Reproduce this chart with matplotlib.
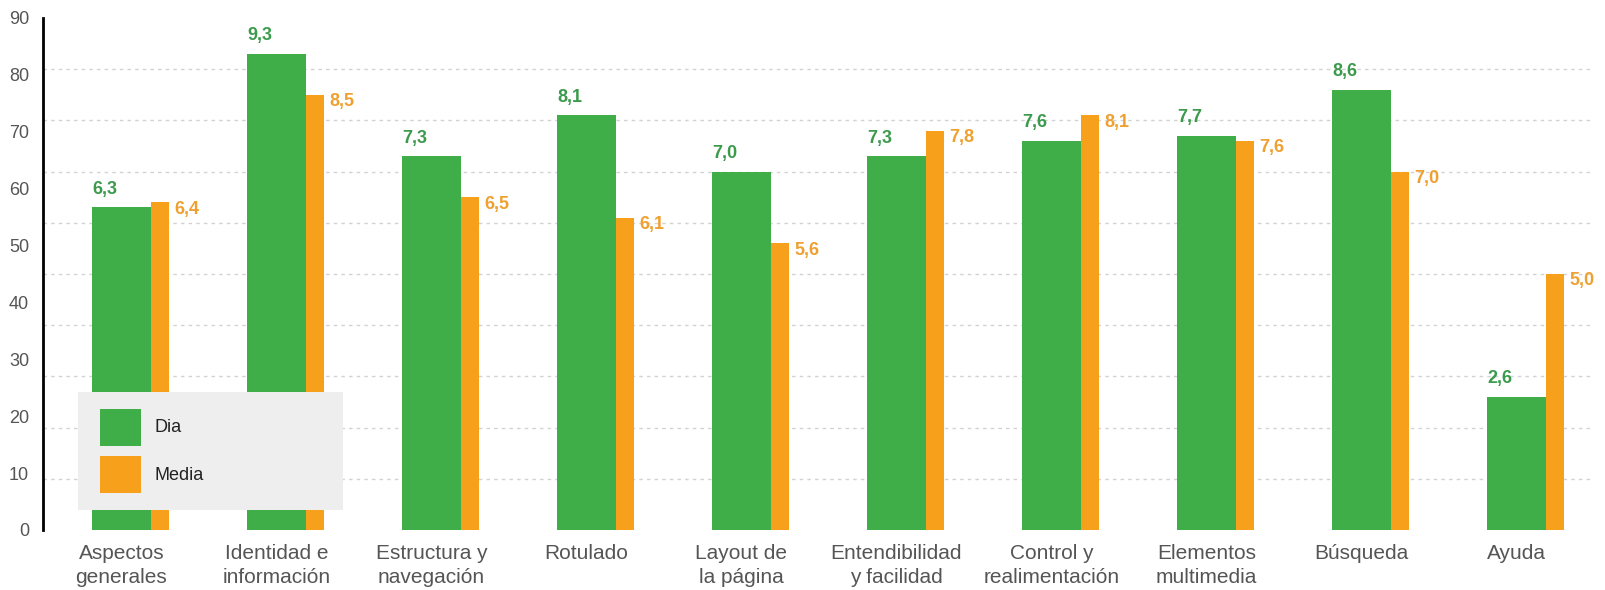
import matplotlib.pyplot as plt
import numpy as np
from matplotlib.patches import Rectangle

plt.rcParams['font.family'] = ['Liberation Sans', 'DejaVu Sans']

categorias = ["Aspectos\ngenerales", "Identidad e\ninformación", "Estructura y\nnavegación",
              "Rotulado", "Layout de\nla página", "Entendibilidad\ny facilidad",
              "Control y\nrealimentación", "Elementos\nmultimedia", "Búsqueda", "Ayuda"]
# scores out of 10, the y axis shows them scaled 0-90
dia = [6.3, 9.3, 7.3, 8.1, 7.0, 7.3, 7.6, 7.7, 8.6, 2.6]
media = [6.4, 8.5, 6.5, 6.1, 5.6, 7.8, 8.1, 7.6, 7.0, 5.0]
ytick_labels = ["0", "10", "20", "30", "40", "50", "60", "70", "80", "90"]
series = ["Dia", "Media"]

verde = "#3fae49"
naranja = "#f6a01b"
verde_txt = "#3b9a4c"
naranja_txt = "#f0a030"

W, H = 1605, 590
fig = plt.figure(figsize=(W/100, H/100), dpi=100)
ax = fig.add_axes([43/W, 1-530/H, 1550/W, 512/H])

x = np.arange(len(categorias))
w_dia = 0.38
w_med = 0.116
x_dia = x - 0.25 + w_dia/2
x_med = x + 0.13 + w_med/2

ax.bar(x_dia, dia, width=w_dia, color=verde, zorder=2)
ax.bar(x_med, media, width=w_med, color=naranja, zorder=2)

def fmt(v):
    return ("%.1f" % v).replace(".", ",")

for xi, v in zip(x_dia, dia):
    ax.annotate(fmt(v), (xi - w_dia/2, v), xytext=(0, 7), textcoords="offset points",
                ha="left", va="bottom", color=verde_txt, fontsize=13, fontweight="bold")
for xi, v in zip(x_med, media):
    ax.annotate(fmt(v), (xi + w_med/2, v), xytext=(4, -5), textcoords="offset points",
                ha="left", va="center", color=naranja_txt, fontsize=13, fontweight="bold")

ax.set_xlim(-0.566, 9.434)
ax.set_ylim(0, 10)

# gridlines on every score unit
ax.set_yticks(np.arange(0, 11), minor=True)
ax.grid(which="minor", axis="y", color="#d2d2d2", linestyle=(0, (2.5, 3)), linewidth=1, zorder=0)
ax.set_yticks(np.arange(0, 91, 10) / 9)
ax.set_yticklabels(ytick_labels, color="#555555", fontsize=13)
ax.tick_params(axis="y", which="both", length=0, pad=10)

ax.set_xticks(x_dia)
ax.set_xticklabels(categorias, color="#555555", fontsize=15, linespacing=1.35)
ax.tick_params(axis="x", length=0, pad=10)

for s in ["top", "right", "bottom"]:
    ax.spines[s].set_visible(False)
ax.spines["left"].set_color("black")
ax.spines["left"].set_linewidth(2)

# legend box drawn by hand (pixel layout of the original)
def px(x0, y0, x1, y1):
    return (x0/W, 1-y1/H), (x1-x0)/W, (y1-y0)/H

xy, w, h = px(78, 392, 343, 510)
fig.patches.append(Rectangle(xy, w, h, transform=fig.transFigure, facecolor="#eeeeee",
                             edgecolor="none", zorder=5))
for i, (nom, col) in enumerate(zip(series, [verde, naranja])):
    y0 = 409 + i*47
    xy, w, h = px(100, y0, 141, y0 + 37)
    fig.patches.append(Rectangle(xy, w, h, transform=fig.transFigure, facecolor=col,
                                 edgecolor="none", zorder=6))
    fig.text(155/W, 1-(y0 + 19)/H, nom, fontsize=13, color="#222222", va="center",
             ha="left", zorder=7)

fig.savefig("out.png", dpi=100)
